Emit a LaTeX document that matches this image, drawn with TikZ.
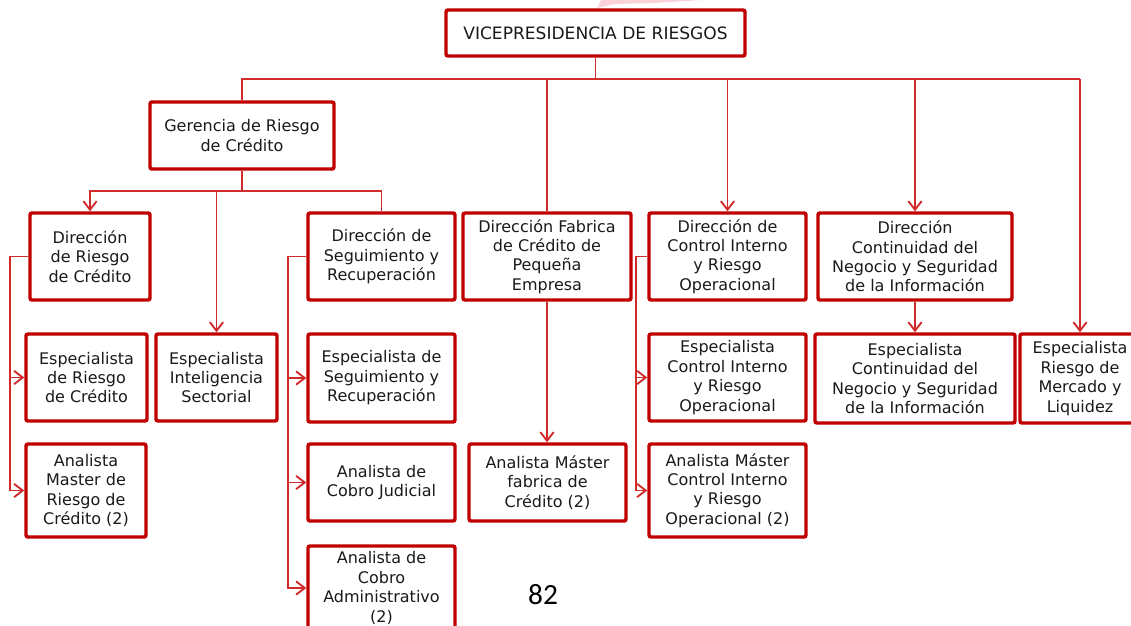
\documentclass[tikz,border=0pt]{standalone}
\usepackage{fontspec}
\setmainfont{DejaVu Sans}
\newfontfamily\pagefont{Carlito}
\usetikzlibrary{arrows.meta}

\definecolor{boxred}{HTML}{C00000}
\definecolor{linered}{HTML}{D02A2A}
\definecolor{inkgray}{HTML}{1A1A1A}
\definecolor{smudge}{HTML}{F9D3D9}

\newcommand*{\busy}{79}
\newcommand*{\gery}{191}

\begin{document}
\begin{tikzpicture}
[
	x=0.75pt, y=-0.75pt,
	box/.style={draw=boxred,line width=2.6pt,rounded corners=1.5pt,fill=white,
		align=center,text=inkgray,inner sep=0pt,font=\fontsize{12}{14.6}\selectfont},
	sz/.style 2 args={minimum width=#1*0.75pt,minimum height=#2*0.75pt},
	link/.style={draw=linered,line width=1.4pt},
	arr/.style={link,-{Straight Barb[length=6.5pt,width=10pt]}}
]

	\useasboundingbox (0,0) rectangle (1131,625);
	\clip (0,0) rectangle (1131,625);

	% smudge above the top box
	\fill[smudge] (597,8) -- (601,0) -- (702,0) -- (655,3) -- (615,4) -- cycle;

	% top
	\node[box,sz={299}{46},font=\fontsize{12.8}{14.6}\selectfont] (vp) at (595.5,33) {VICEPRESIDENCIA DE RIESGOS};
	\node[box,sz={184}{67}] (ger) at (242,135.5) {Gerencia de Riesgo\\de Crédito};

	% direcciones
	\node[box,sz={120}{87}] (dRC) at (90,256.5) {Dirección\\de Riesgo\\de Crédito};
	\node[box,sz={147}{87}] (dSR) at (381.5,256.5) {Dirección de\\Seguimiento y\\Recuperación};
	\node[box,sz={168}{87}] (dFab) at (547,256.5) {Dirección Fabrica\\de Crédito de\\Pequeña\\Empresa};
	\node[box,sz={157}{87}] (dCI) at (727.5,256.5) {Dirección de\\Control Interno\\y Riesgo\\Operacional};
	\node[box,sz={194}{87}] (dCN) at (915,256.5) {Dirección\\Continuidad del\\Negocio y Seguridad\\de la Información};

	% especialistas
	\node[box,sz={121}{87}] (eRC) at (86.5,377.5) {Especialista\\de Riesgo\\de Crédito};
	\node[box,sz={121}{87}] (eIS) at (216.5,377.5) {Especialista\\Inteligencia\\Sectorial};
	\node[box,sz={147}{88}] (eSR) at (381.5,378) {Especialista de\\Seguimiento y\\Recuperación};
	\node[box,sz={157}{87}] (eCI) at (727.5,377.5) {Especialista\\Control Interno\\y Riesgo\\Operacional};
	\node[box,sz={200}{89}] (eCN) at (915,378.5) {Especialista\\Continuidad del\\Negocio y Seguridad\\de la Información};
	\node[box,sz={120}{89}] (eML) at (1080,378.5) {Especialista\\Riesgo de\\Mercado y\\Liquidez};

	% analistas
	\node[box,sz={120}{93}] (aRC) at (86,490.5) {Analista\\Master de\\Riesgo de\\Crédito (2)};
	\node[box,sz={147}{77}] (aCJ) at (381.5,482.5) {Analista de\\Cobro Judicial};
	\node[box,sz={157}{77}] (aFab) at (547.5,482.5) {Analista Máster\\fabrica de\\Crédito (2)};
	\node[box,sz={157}{93}] (aCI) at (727.5,490.5) {Analista Máster\\Control Interno\\y Riesgo\\Operacional (2)};
	\node[box,sz={147}{84}] (aCA) at (381.5,588) {Analista de\\Cobro\\Administrativo\\(2)};

	\node[font=\pagefont\fontsize{22}{22}\selectfont,text=black] (pnum) at (543,595) {82};

	% main bus
	\coordinate (busR) at (1080,\busy);
	\draw[link] (vp.south) -- (vp.south |- busR);
	\draw[link] (ger.north) |- (busR);
	\draw[link] (dFab.north |- busR) -- (dFab.north);
	\draw[arr] (dCI.north |- busR) -- (dCI.north);
	\draw[arr] (dCN.north |- busR) -- (dCN.north);
	\draw[arr] (busR) -- (eML.north);

	% gerencia
	\coordinate (gmid) at (242,\gery);
	\draw[link] (ger.south) -- (gmid);
	\draw[arr] (gmid) -| (dRC.north);
	\draw[link] (gmid) -| (dSR.north);
	\draw[arr] (eIS.north |- gmid) -- (eIS.north);

	% side lines
	\coordinate (sRC) at (10,0);
	\coordinate (sSR) at (288,0);
	\coordinate (sCI) at (636,0);
	\draw[arr] (dRC.west) -| (sRC |- aRC.west) -- (aRC.west);
	\draw[arr] (sRC |- eRC.west) -- (eRC.west);
	\draw[arr] (dSR.west) -| (sSR |- aCA.west) -- (aCA.west);
	\draw[arr] (sSR |- eSR.west) -- (eSR.west);
	\draw[arr] (sSR |- aCJ.west) -- (aCJ.west);
	\draw[arr] (dCI.west) -| (sCI |- aCI.west) -- (aCI.west);
	\draw[arr] (sCI |- eCI.west) -- (eCI.west);

	% straight drops
	\draw[arr] (dFab.south) -- (dFab.south |- aFab.north);
	\draw[arr] (dCN.south) -- (dCN.south |- eCN.north);

\end{tikzpicture}
\end{document}
